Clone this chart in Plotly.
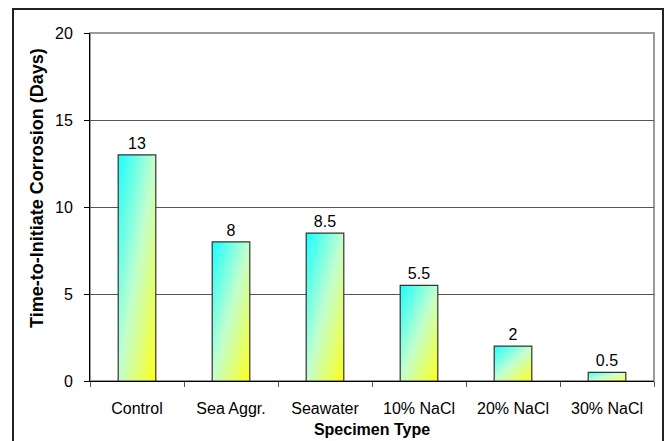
import plotly.graph_objects as go

# Data
specimens = ["Control", "Sea Aggr.", "Seawater", "10% NaCl", "20% NaCl", "30% NaCl"]
days = [13, 8, 8.5, 5.5, 2, 0.5]
y_ticks = [0, 5, 10, 15, 20]

BAR_WIDTH = 0.4
N_SLICES = 50
FONT = "Liberation Sans, Arial, sans-serif"

# Diagonal fill: cyan at top-left, pale green in the middle, yellow at bottom-right
C0 = (25, 255, 255)
CM = (195, 255, 205)
C1 = (255, 255, 25)


def mix(a, b, f):
    return tuple(round(a[i] + (b[i] - a[i]) * f) for i in range(3))


def grad(t):
    if t <= 0.5:
        c = mix(C0, CM, t / 0.5)
    else:
        c = mix(CM, C1, (t - 0.5) / 0.5)
    return "rgb(%d,%d,%d)" % c


fig = go.Figure()

# Gradient-filled bar bodies, built as horizontal slices on a numeric axis
for i, val in enumerate(days):
    xl, xr = i - BAR_WIDTH / 2, i + BAR_WIDTH / 2
    for k in range(N_SLICES):
        y_top = val * (1 - k / N_SLICES)
        y_bot = max(0.0, val * (1 - (k + 1.6) / N_SLICES))
        v = (k + 0.5) / N_SLICES
        t_left, t_right = v / 2, v / 2 + 0.5
        fig.add_trace(go.Scatter(
            x=[xl, xr, xr, xl, xl],
            y=[y_top, y_top, y_bot, y_bot, y_top],
            xaxis="x", yaxis="y",
            mode="lines", line=dict(width=0, simplify=False),
            fill="toself",
            fillgradient=dict(
                type="horizontal", start=xl, stop=xr,
                colorscale=[[0, grad(t_left)], [1 - v, grad(0.5)], [1, grad(t_right)]],
            ),
            hoverinfo="skip", showlegend=False,
        ))

# Bar outlines and value labels on the category axis
fig.add_trace(go.Bar(
    x=specimens, y=days,
    xaxis="x2", yaxis="y",
    width=BAR_WIDTH,
    marker=dict(color="rgba(0,0,0,0)", line=dict(color="#333333", width=1.2)),
    text=[f"{d:g}" for d in days],
    textposition="outside",
    textfont=dict(family=FONT, size=16, color="black"),
    cliponaxis=False,
    showlegend=False,
))

W, H = 669, 441
ML, MR, MT, MB = 90, 15, 33, 60
pw, ph = W - ML - MR, H - MT - MB


def px_x(p):
    return (p - ML) / pw


def px_y(p):
    return (H - MB - p) / ph


fig.update_layout(
    width=W, height=H,
    margin=dict(l=ML, r=MR, t=MT, b=MB),
    paper_bgcolor="white", plot_bgcolor="white",
    font=dict(family=FONT, size=16, color="black"),
    xaxis=dict(range=[-0.5, 5.5], visible=False, fixedrange=True, automargin=False),
    xaxis2=dict(
        type="category", overlaying="x", anchor="y", side="bottom",
        range=[-0.5, 5.5], automargin=False,
        showline=True, linecolor="black", linewidth=1,
        ticks="outside", tickson="boundaries", ticklen=5, tickcolor="#555555",
        ticklabelstandoff=13,
        showgrid=False,
        tickfont=dict(family=FONT, size=16, color="black"),
        title=dict(text="<b>Specimen Type</b>", standoff=7,
                   font=dict(family=FONT, size=16, color="black")),
    ),
    yaxis=dict(
        range=[0, 20], tickvals=y_ticks, automargin=False,
        showline=True, linecolor="black", linewidth=1,
        ticks="outside", ticklen=5, tickcolor="black",
        ticklabelstandoff=8,
        showgrid=True, gridcolor="#555555", gridwidth=1,
        zeroline=False,
        tickfont=dict(family=FONT, size=16, color="black"),
    ),
    shapes=[
        # plot-area border
        dict(type="rect", xref="paper", yref="paper", x0=0, x1=1, y0=0, y1=1,
             line=dict(color="#9a9a9a", width=2), layer="below"),
        # chart-area frame
        dict(type="rect", xref="paper", yref="paper",
             x0=px_x(13), x1=px_x(663), y0=px_y(450), y1=px_y(9),
             line=dict(color="#222222", width=2), layer="below"),
    ],
    annotations=[
        dict(text="<b>Time-to-Initiate Corrosion (Days)</b>",
             xref="paper", yref="paper", x=px_x(37), y=px_y(188),
             xanchor="center", yanchor="middle", textangle=-90,
             showarrow=False, font=dict(family=FONT, size=18, color="black")),
    ],
)

fig.write_html("out.html")
